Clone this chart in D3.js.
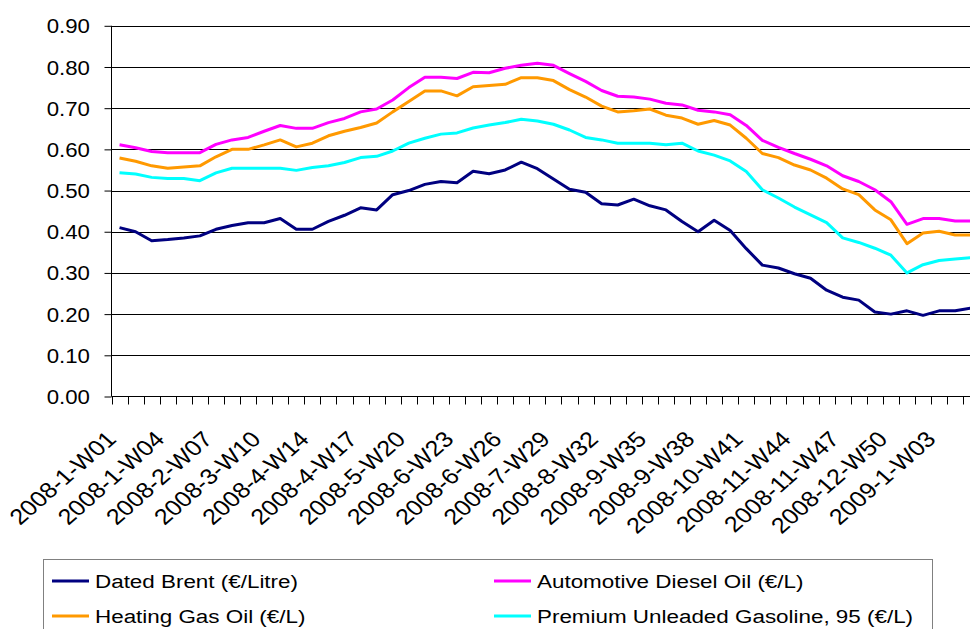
<!DOCTYPE html>
<html>
<head>
<meta charset="utf-8">
<script src="https://cdn.jsdelivr.net/npm/d3@7"></script>
<style>
html,body{margin:0;padding:0;background:#fff;overflow:hidden;}
svg{display:block;font-family:"Liberation Sans",Arial,sans-serif;}
</style>
</head>
<body>
<svg id="chart" width="970" height="629"></svg>
<script>
const categories = [
"2008-1-W01","2008-1-W02","2008-1-W03","2008-1-W04","2008-1-W05","2008-2-W06","2008-2-W07","2008-2-W08","2008-2-W09",
"2008-3-W10","2008-3-W11","2008-3-W12","2008-4-W14","2008-4-W15","2008-4-W16","2008-4-W17","2008-4-W18","2008-5-W19",
"2008-5-W20","2008-5-W21","2008-5-W22","2008-6-W23","2008-6-W24","2008-6-W25","2008-6-W26","2008-6-W27","2008-7-W28",
"2008-7-W29","2008-7-W30","2008-7-W31","2008-8-W32","2008-8-W33","2008-8-W34","2008-9-W35","2008-9-W36","2008-9-W37",
"2008-9-W38","2008-9-W39","2008-10-W40","2008-10-W41","2008-10-W42","2008-10-W43","2008-11-W44","2008-11-W45","2008-11-W46",
"2008-11-W47","2008-11-W48","2008-12-W49","2008-12-W50","2008-12-W51","2008-12-W52","2009-1-W03","2009-1-W04","2009-1-W05"
];
const datedBrent = [0.410,0.400,0.378,0.381,0.385,0.390,0.406,0.415,0.422,0.422,0.432,0.406,0.406,0.425,0.440,0.458,0.453,
0.490,0.500,0.515,0.522,0.519,0.547,0.541,0.550,0.569,0.553,0.528,0.503,0.496,0.468,0.465,0.479,0.463,0.453,
0.425,0.400,0.428,0.403,0.359,0.319,0.312,0.298,0.287,0.258,0.241,0.234,0.205,0.200,0.208,0.197,0.208,0.208,0.215];
const dieselOil = [0.611,0.604,0.595,0.592,0.592,0.592,0.612,0.623,0.629,0.644,0.658,0.651,0.651,0.665,0.675,0.691,0.698,
0.720,0.750,0.775,0.775,0.772,0.787,0.786,0.797,0.804,0.809,0.804,0.784,0.765,0.743,0.729,0.727,0.722,0.712,
0.708,0.695,0.691,0.684,0.658,0.622,0.605,0.590,0.576,0.560,0.536,0.522,0.502,0.473,0.418,0.432,0.432,0.426,0.426];
const heatingGasOil = [0.579,0.571,0.560,0.554,0.557,0.560,0.582,0.600,0.600,0.611,0.623,0.606,0.615,0.633,0.644,0.653,0.664,
0.691,0.716,0.742,0.742,0.730,0.752,0.755,0.758,0.774,0.774,0.767,0.745,0.727,0.705,0.691,0.694,0.698,0.683,
0.676,0.661,0.670,0.659,0.627,0.590,0.580,0.562,0.550,0.530,0.504,0.490,0.453,0.429,0.371,0.397,0.401,0.392,0.392];
const premiumGasoline = [0.543,0.540,0.532,0.529,0.529,0.524,0.543,0.554,0.554,0.554,0.554,0.549,0.556,0.560,0.568,0.580,0.583,
0.596,0.615,0.627,0.637,0.640,0.652,0.659,0.665,0.673,0.669,0.661,0.647,0.629,0.623,0.615,0.615,0.615,0.611,
0.615,0.596,0.586,0.572,0.546,0.502,0.482,0.460,0.441,0.422,0.385,0.374,0.360,0.343,0.300,0.320,0.330,0.334,0.337];
const seriesNames = ["Dated Brent (\u20AC/Litre)","Automotive Diesel Oil (\u20AC/L)","Heating Gas Oil (\u20AC/L)","Premium Unleaded Gasoline, 95 (\u20AC/L)"];
const seriesColors = ["#000080","#FF00FF","#FF9900","#00FFFF"];
const yTicks = [0,0.1,0.2,0.3,0.4,0.5,0.6,0.7,0.8,0.9];

(function(){
const svg = d3.select("#chart");
const plotLeft = 111.5, plotTop = 25.8, plotBottom = 396.5, bw = 16.07;
const plotRight = plotLeft + bw * categories.length;

const x = d3.scaleBand().domain(categories).range([plotLeft, plotRight]).paddingInner(0).paddingOuter(0);
const y = d3.scaleLinear().domain([0, 0.9]).range([plotBottom, plotTop]);

// gridlines
const grid = svg.append("g");
yTicks.filter(t => t > 0).forEach(t => {
  grid.append("line").attr("x1", plotLeft).attr("x2", plotRight)
    .attr("y1", Math.round(y(t)) + 0.5).attr("y2", Math.round(y(t)) + 0.5)
    .attr("stroke", "#000").attr("stroke-width", 1);
});

// y axis
const yAxis = d3.axisLeft(y).tickValues(yTicks).tickSize(7).tickFormat(d3.format(".2f"));
const gy = svg.append("g").attr("transform", `translate(${plotLeft},0)`).call(yAxis);
gy.select(".domain").remove();
gy.selectAll(".tick line").attr("stroke", "#000");
gy.selectAll(".tick text").remove();
gy.append("line").attr("x1", 0).attr("x2", 0).attr("y1", plotTop).attr("y2", plotBottom).attr("stroke", "#000");
yTicks.forEach(t => {
  svg.append("text").attr("transform", `translate(90,${y(t)}) scale(1.06,1)`)
    .attr("text-anchor", "end").attr("dy", "0.36em")
    .attr("font-size", 21).attr("fill", "#000").text(d3.format(".2f")(t));
});

// x axis
const gx = svg.append("g");
gx.append("line").attr("x1", plotLeft).attr("x2", plotRight).attr("y1", plotBottom).attr("y2", plotBottom).attr("stroke", "#000");
categories.concat(["__end"]).forEach((c) => {
  const xx = c === "__end" ? plotRight : x(c);
  gx.append("line").attr("x1", Math.round(xx) + 0.5).attr("x2", Math.round(xx) + 0.5)
    .attr("y1", plotBottom).attr("y2", plotBottom + 8).attr("stroke", "#000");
});
categories.forEach((c, i) => {
  if (i % 3 !== 0) return;
  const cx = x(c) + x.bandwidth() / 2;
  gx.append("text")
    .attr("transform", `translate(${cx - 2},${plotBottom + 44}) scale(1.14,1) rotate(-45)`)
    .attr("text-anchor", "end").attr("font-size", 22).attr("fill", "#000").text(c);
});

// lines
const allSeries = [datedBrent, dieselOil, heatingGasOil, premiumGasoline];
const line = d3.line().x((d, i) => x(categories[i]) + x.bandwidth() / 2).y(d => y(d));
allSeries.forEach((s, k) => {
  svg.append("path").datum(s).attr("d", line).attr("fill", "none")
    .attr("stroke", seriesColors[k]).attr("stroke-width", 3).attr("stroke-linejoin", "round");
});

// legend
const lg = svg.append("g");
lg.append("rect").attr("x", 43.5).attr("y", 559.5).attr("width", 889).attr("height", 100)
  .attr("fill", "#fff").attr("stroke", "#808080").attr("stroke-width", 1);
const legPos = [[52, 581], [494, 581], [52, 616], [494, 616]];
seriesNames.forEach((n, k) => {
  const [lx, ly] = legPos[k];
  lg.append("line").attr("x1", lx).attr("x2", lx + 37).attr("y1", ly).attr("y2", ly)
    .attr("stroke", seriesColors[k]).attr("stroke-width", 3);
  lg.append("text").attr("transform", `translate(${lx + 43},${ly}) scale(1.18,1)`)
    .attr("dy", "0.36em").attr("font-size", 19).attr("fill", "#000").text(n);
});
})();
</script>
</body>
</html>
